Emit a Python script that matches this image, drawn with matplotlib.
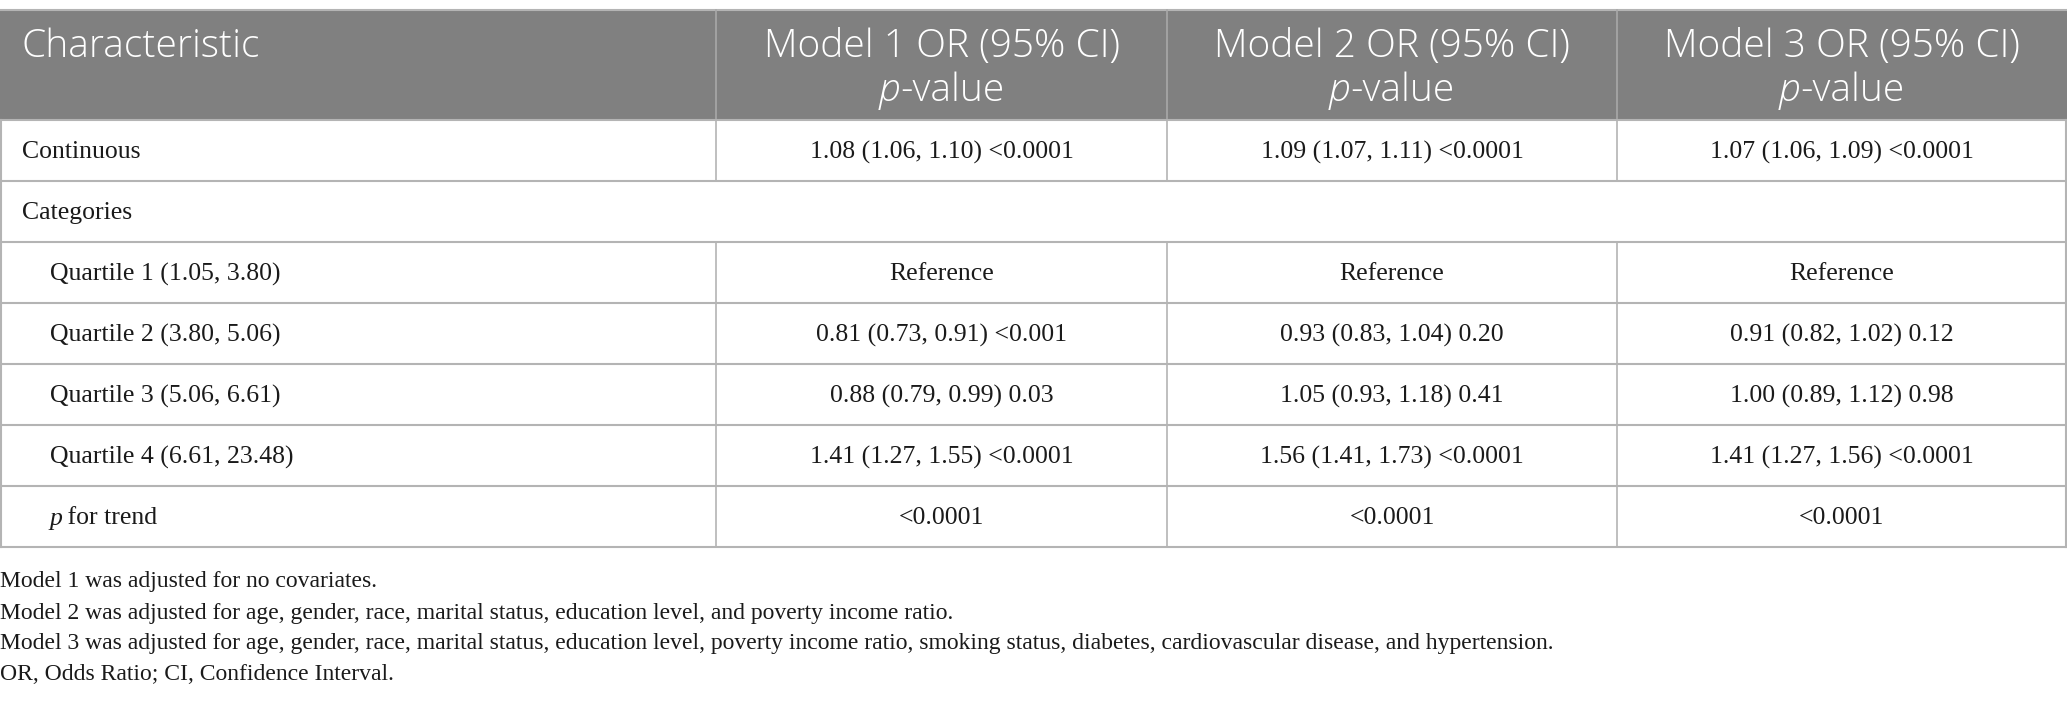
import matplotlib.pyplot as plt

header = ['Characteristic', 'Model 1 OR (95% CI)', 'Model 2 OR (95% CI)', 'Model 3 OR (95% CI)']
labels = ['Continuous', 'Categories', 'Quartile 1 (1.05, 3.80)', 'Quartile 2 (3.80, 5.06)',
          'Quartile 3 (5.06, 6.61)', 'Quartile 4 (6.61, 23.48)', 'p for trend']
indent = [False, False, True, True, True, True, True]
model1 = ['1.08 (1.06, 1.10) <0.0001', '', 'Reference', '0.81 (0.73, 0.91) <0.001',
          '0.88 (0.79, 0.99) 0.03', '1.41 (1.27, 1.55) <0.0001', '<0.0001']
model2 = ['1.09 (1.07, 1.11) <0.0001', '', 'Reference', '0.93 (0.83, 1.04) 0.20',
          '1.05 (0.93, 1.18) 0.41', '1.56 (1.41, 1.73) <0.0001', '<0.0001']
model3 = ['1.07 (1.06, 1.09) <0.0001', '', 'Reference', '0.91 (0.82, 1.02) 0.12',
          '1.00 (0.89, 1.12) 0.98', '1.41 (1.27, 1.56) <0.0001', '<0.0001']
notes = [
    'Model 1 was adjusted for no covariates.',
    'Model 2 was adjusted for age, gender, race, marital status, education level, and poverty income ratio.',
    'Model 3 was adjusted for age, gender, race, marital status, education level, poverty income ratio, '
    'smoking status, diabetes, cardiovascular disease, and hypertension.',
    'OR, Odds Ratio; CI, Confidence Interval.',
]

W, H = 2067, 717
fig = plt.figure(figsize=(W / 100, H / 100), dpi=100)
ax = fig.add_axes([0, 0, 1, 1])
ax.set_xlim(0, W)
ax.set_ylim(H, 0)
ax.axis('off')
renderer = fig.canvas.get_renderer()

col_x = [0, 716, 1167, 1617, 2066]
top, head_bot, row_h = 10, 120, 61
line_c = '#b4b4b4'
head_font = 'Open Sans'
body_font = 'Liberation Serif'
ink = '#1a1a1a'


def rich(x, y, parts, ha, gap=0, **kw):
    # parts: list of (text, italic) drawn side by side
    objs = [ax.text(0, y, t, va='center', ha='left',
                    style='italic' if it else 'normal', **kw) for t, it in parts]
    widths = [o.get_window_extent(renderer).width + gap for o in objs]
    x0 = x - sum(widths) / 2 if ha == 'center' else x
    for o, w in zip(objs, widths):
        o.set_x(x0)
        x0 += w


# header band
ax.fill_between([0, W], top, head_bot, color='#808080', lw=0)
ax.plot([0, W], [top, top], color=line_c, lw=1.5)
for x in col_x[1:-1]:
    ax.plot([x, x], [top, head_bot], color='#a8a8a8', lw=1.2)
hk = dict(color='white', fontsize=28, family=head_font, fontweight='light')
ax.text(22, 47, header[0], va='center', ha='left', **hk)
for i, h in enumerate(header[1:]):
    cx = (col_x[i + 1] + col_x[i + 2]) / 2
    ax.text(cx, 47, h, va='center', ha='center', **hk)
    rich(cx, 91, [('p', True), ('-value', False)], 'center', **hk)

# body rows
n = len(labels)
bottom = head_bot + n * row_h
for r in range(n + 1):
    y = head_bot + r * row_h
    ax.plot([0, W], [y, y], color=line_c, lw=1.5)
ax.plot([1, 1], [head_bot, bottom], color=line_c, lw=1.5)
ax.plot([W - 1, W - 1], [head_bot, bottom], color=line_c, lw=1.5)

bk = dict(fontsize=18.5, family=body_font, color=ink)
for r, lab in enumerate(labels):
    yc = head_bot + r * row_h + row_h / 2
    ty = yc + 2
    x0 = 50 if indent[r] else 22
    if lab.startswith('p for'):
        rich(x0, ty, [('p', True), (lab[1:], False)], 'left', gap=-2, **bk)
    else:
        ax.text(x0, ty, lab, va='center', ha='left', **bk)
    if lab == 'Categories':
        continue
    vals = [model1[r], model2[r], model3[r]]
    for i in range(3):
        ax.plot([col_x[i + 1]] * 2, [yc - row_h / 2, yc + row_h / 2], color=line_c, lw=1.2)
        cx = (col_x[i + 1] + col_x[i + 2]) / 2
        ax.text(cx, ty, vals[i], va='center', ha='center', **bk)

# footnotes
for k, t in enumerate(notes):
    ax.text(0, 582 + k * 31, t, fontsize=17, family=body_font, va='center', ha='left',
            color=ink)

fig.savefig('out.png', dpi=100)
